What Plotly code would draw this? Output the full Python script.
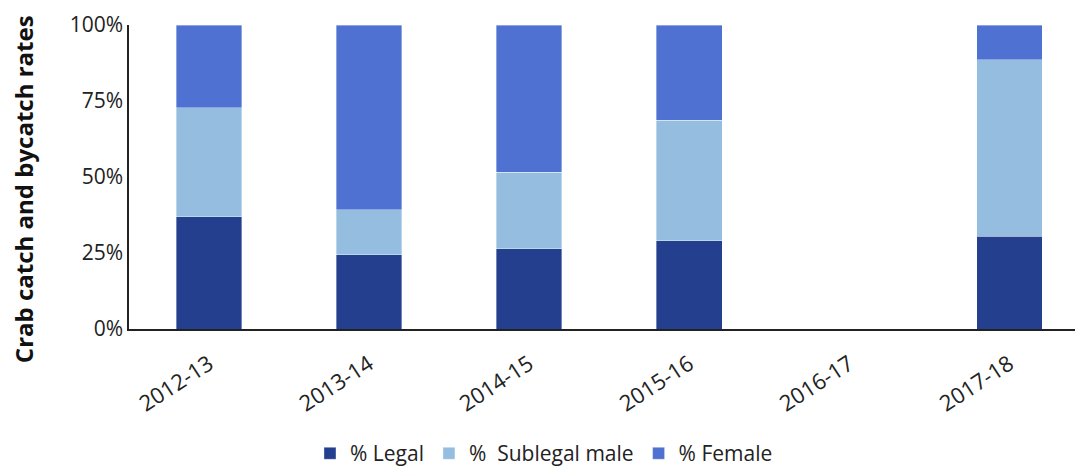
import plotly.graph_objects as go

seasons = ["2012-13", "2013-14", "2014-15", "2015-16", "2016-17", "2017-18"]
legal = [37.0, 24.4, 26.4, 29.1, None, 30.5]
sublegal = [35.7, 14.8, 25.2, 39.5, None, 58.1]
female = [27.3, 60.8, 48.4, 31.4, None, 11.4]
series_names = ["% Legal", "%  Sublegal male", "% Female"]
colors = ["#243F8D", "#95BDE0", "#4F71D2"]
y_ticks = [0, 25, 50, 75, 100]
y_ticklabels = ["0%", "25%", "50%", "75%", "100%"]
y_title = "Crab catch and bycatch rates"

FONT = "Open Sans, Noto Sans, sans-serif"

fig = go.Figure()
for name, vals, col in zip(series_names, [legal, sublegal, female], colors):
    fig.add_trace(go.Bar(
        x=seasons, y=vals, name=name,
        marker=dict(color=col, line=dict(width=0.6, color="rgba(255,255,255,0.6)")),
        width=0.41,
    ))

# page body has an 8px margin; figure sized to fit the 1083x471 viewport
fig.update_layout(
    barmode="stack",
    width=1075, height=463,
    margin=dict(l=121, r=0, t=17, b=142, autoexpand=False),
    plot_bgcolor="white", paper_bgcolor="white",
    font=dict(family=FONT, size=20, color="#222222"),
    showlegend=True,
    legend=dict(orientation="h", x=0.435, xanchor="center", y=-0.41, yanchor="middle",
                font=dict(size=21, color="#222222"), traceorder="normal",
                itemwidth=30, tracegroupgap=0),
    xaxis=dict(
        type="category",
        range=[-0.5, 5.46],
        automargin=False,
        showline=True, linecolor="#222222", linewidth=1.5,
        ticks="", tickangle=-33, ticklabelstandoff=12,
        tickfont=dict(size=22, family=FONT, color="#222222"),
        showgrid=False,
    ),
    yaxis=dict(
        range=[0, 100],
        automargin=False,
        tickvals=y_ticks, ticktext=y_ticklabels,
        showline=True, linecolor="#222222", linewidth=1.5,
        showgrid=False, zeroline=False, ticks="",
        tickfont=dict(size=21, family=FONT, color="#222222"),
    ),
)

fig.add_annotation(
    text="<b>" + y_title + "</b>", textangle=-90,
    xref="paper", yref="paper", x=0, y=0.46,
    xanchor="center", yanchor="middle", xshift=-106, showarrow=False,
    font=dict(size=24, family=FONT, color="#111111"),
)

fig.write_html("out.html")
